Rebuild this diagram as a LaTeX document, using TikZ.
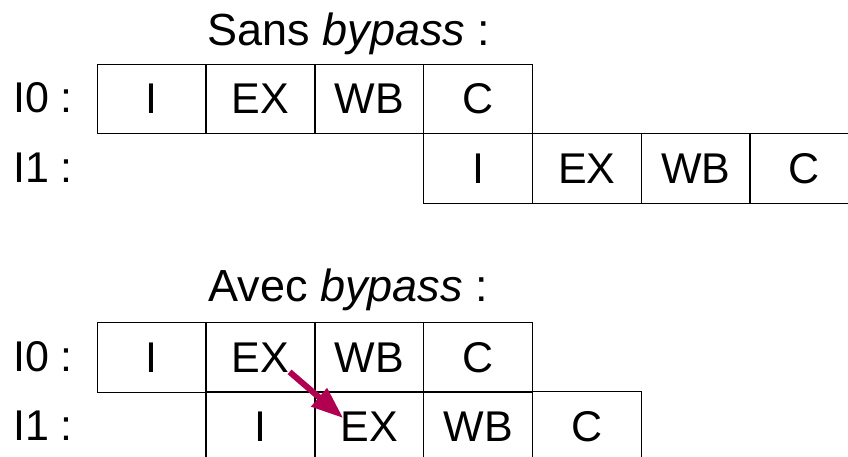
\documentclass[tikz,border=0pt]{standalone}
\usepackage{fontspec}
\setmainfont{Liberation Sans}
\usetikzlibrary{arrows.meta}
\tikzset{
	stage/.style={draw, line width=1.3pt, minimum width=108.8pt, minimum height=69.5pt, inner sep=0pt},
	rowlabel/.style={anchor=base west, inner sep=0pt},
	heading/.style={anchor=base, inner sep=0pt, font=\fontsize{45}{52}\selectfont},
	bypass/.style={line width=6pt, draw=bypassred, -{Triangle[length=32pt,width=23pt]}}
}
\begin{document}
\begin{tikzpicture}[x=1pt, y=1pt, font=\fontsize{43}{50}\selectfont]
					\definecolor{bypassred}{HTML}{B0004F}
					
					\useasboundingbox (0,0) rectangle (848,457);
					\clip (0,0) rectangle (848,457);
					
					% sans bypass
					\node[heading] (sanstitle) at (349,411) {Sans \textit{bypass} :};
					\node[rowlabel] (s0label) at (13,344) {I0 :};
					\node[rowlabel] (s1label) at (13,274.7) {I1 :};
					
					\node[stage] (s0i) at (151.7,358) {I};
					\node[stage] (s0ex) at (260.5,358) {EX};
					\node[stage] (s0wb) at (369.3,358) {WB};
					\node[stage] (s0c) at (478.1,358) {C};
					
					\node[stage] (s1i) at (478.1,288.5) {I};
					\node[stage] (s1ex) at (586.9,288.5) {EX};
					\node[stage] (s1wb) at (695.7,288.5) {WB};
					\node[stage] (s1c) at (804.5,288.5) {C};
					
					% avec bypass
					\node[heading] (avectitle) at (348,155.3) {Avec \textit{bypass} :};
					\node[rowlabel] (a0label) at (13,85.3) {I0 :};
					\node[rowlabel] (a1label) at (13,16.3) {I1 :};
					
					\node[stage] (a0i) at (151.7,99.5) {I};
					\node[stage] (a0ex) at (260.5,99.5) {EX};
					\node[stage] (a0wb) at (369.3,99.5) {WB};
					\node[stage] (a0c) at (478.1,99.5) {C};
					
					\node[stage] (a1i) at (260.5,30.5) {I};
					\node[stage] (a1ex) at (369.3,30.5) {EX};
					\node[stage] (a1wb) at (478.1,30.5) {WB};
					\node[stage] (a1c) at (586.9,30.5) {C};
					
					\draw[bypass] ([xshift=-26pt,yshift=21pt]a0ex.south east) -- ([xshift=29pt,yshift=-27pt]a1ex.north west);
				\end{tikzpicture}
\end{document}
